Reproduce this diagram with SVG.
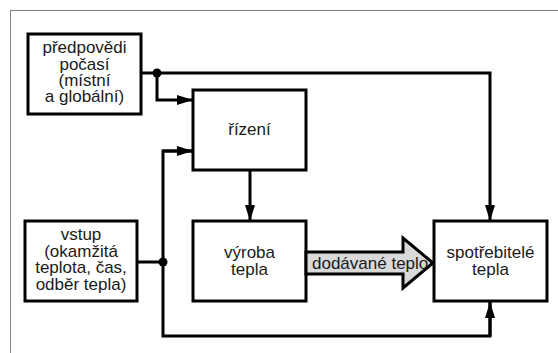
<svg xmlns="http://www.w3.org/2000/svg" width="558" height="353" viewBox="0 0 558 353">
<defs>
<style>
.box{fill:#fff;stroke:#000;stroke-width:3}
.ln{fill:none;stroke:#000;stroke-width:3}
.t{font-family:"Liberation Sans",Arial,Helvetica,sans-serif;font-size:17px;fill:#1a1a1a;text-anchor:middle}
.dot{fill:#000}
</style>
<marker id="ah" markerUnits="userSpaceOnUse" markerWidth="16" markerHeight="10" refX="16" refY="5" orient="auto">
<path d="M0,0 L16,5 L0,10 z" fill="#000"/>
</marker>
</defs>
<rect x="10.5" y="10.5" width="600" height="400" fill="none" stroke="#808080" stroke-width="1"/>
<g id="connectors">
<polyline class="ln" points="141,73 490,73 490,221" marker-end="url(#ah)"/>
<polyline class="ln" points="157,73 157,100 193,100" marker-end="url(#ah)"/>
<line class="ln" x1="137" y1="262" x2="163" y2="262"/>
<polyline class="ln" points="193,151 163,151 163,336 490,336 490,302" marker-end="url(#ah)" style="marker-end:none"/>
<line class="ln" x1="163" y1="151" x2="193" y2="151" marker-end="url(#ah)"/>
<line class="ln" x1="490" y1="336" x2="490" y2="302" marker-end="url(#ah)"/>
<line class="ln" x1="250" y1="170" x2="250" y2="221" marker-end="url(#ah)"/>
<circle class="dot" cx="157" cy="73" r="4.5"/>
<circle class="dot" cx="163" cy="262" r="4.5"/>
</g>
<g id="predpovedi">
<rect class="box" x="28" y="34" width="113" height="80"/>
<text class="t" x="84.5" y="53">předpovědi</text>
<text class="t" x="84.5" y="69.5">počasí</text>
<text class="t" x="84.5" y="86">(místní</text>
<text class="t" x="84.5" y="102">a globální)</text>
</g>
<g id="rizeni">
<rect class="box" x="193" y="90" width="113" height="80"/>
<text class="t" x="249.5" y="135">řízení</text>
</g>
<g id="vstup">
<rect class="box" x="25" y="221" width="112" height="80"/>
<text class="t" x="81" y="240">vstup</text>
<text class="t" x="81" y="256.5">(okamžitá</text>
<text class="t" x="81" y="273">teplota, čas,</text>
<text class="t" x="81" y="289.5">odběr tepla)</text>
</g>
<g id="vyroba">
<rect class="box" x="193" y="221" width="113" height="80"/>
<text class="t" x="249.5" y="258">výroba</text>
<text class="t" x="249.5" y="274.5">tepla</text>
</g>
<g id="spotrebitele">
<rect class="box" x="434" y="221" width="113" height="80"/>
<text class="t" x="490.5" y="258">spotřebitelé</text>
<text class="t" x="490.5" y="274.5">tepla</text>
</g>
<g id="dodavane">
<polygon points="306,252 403,252 403,238 433,263 403,288 403,274 306,274" fill="#d9d9d9" stroke="#000" stroke-width="3" stroke-linejoin="miter"/>
<text class="t" x="312" y="268.5" style="text-anchor:start">dodávané teplo</text>
</g>
</svg>
